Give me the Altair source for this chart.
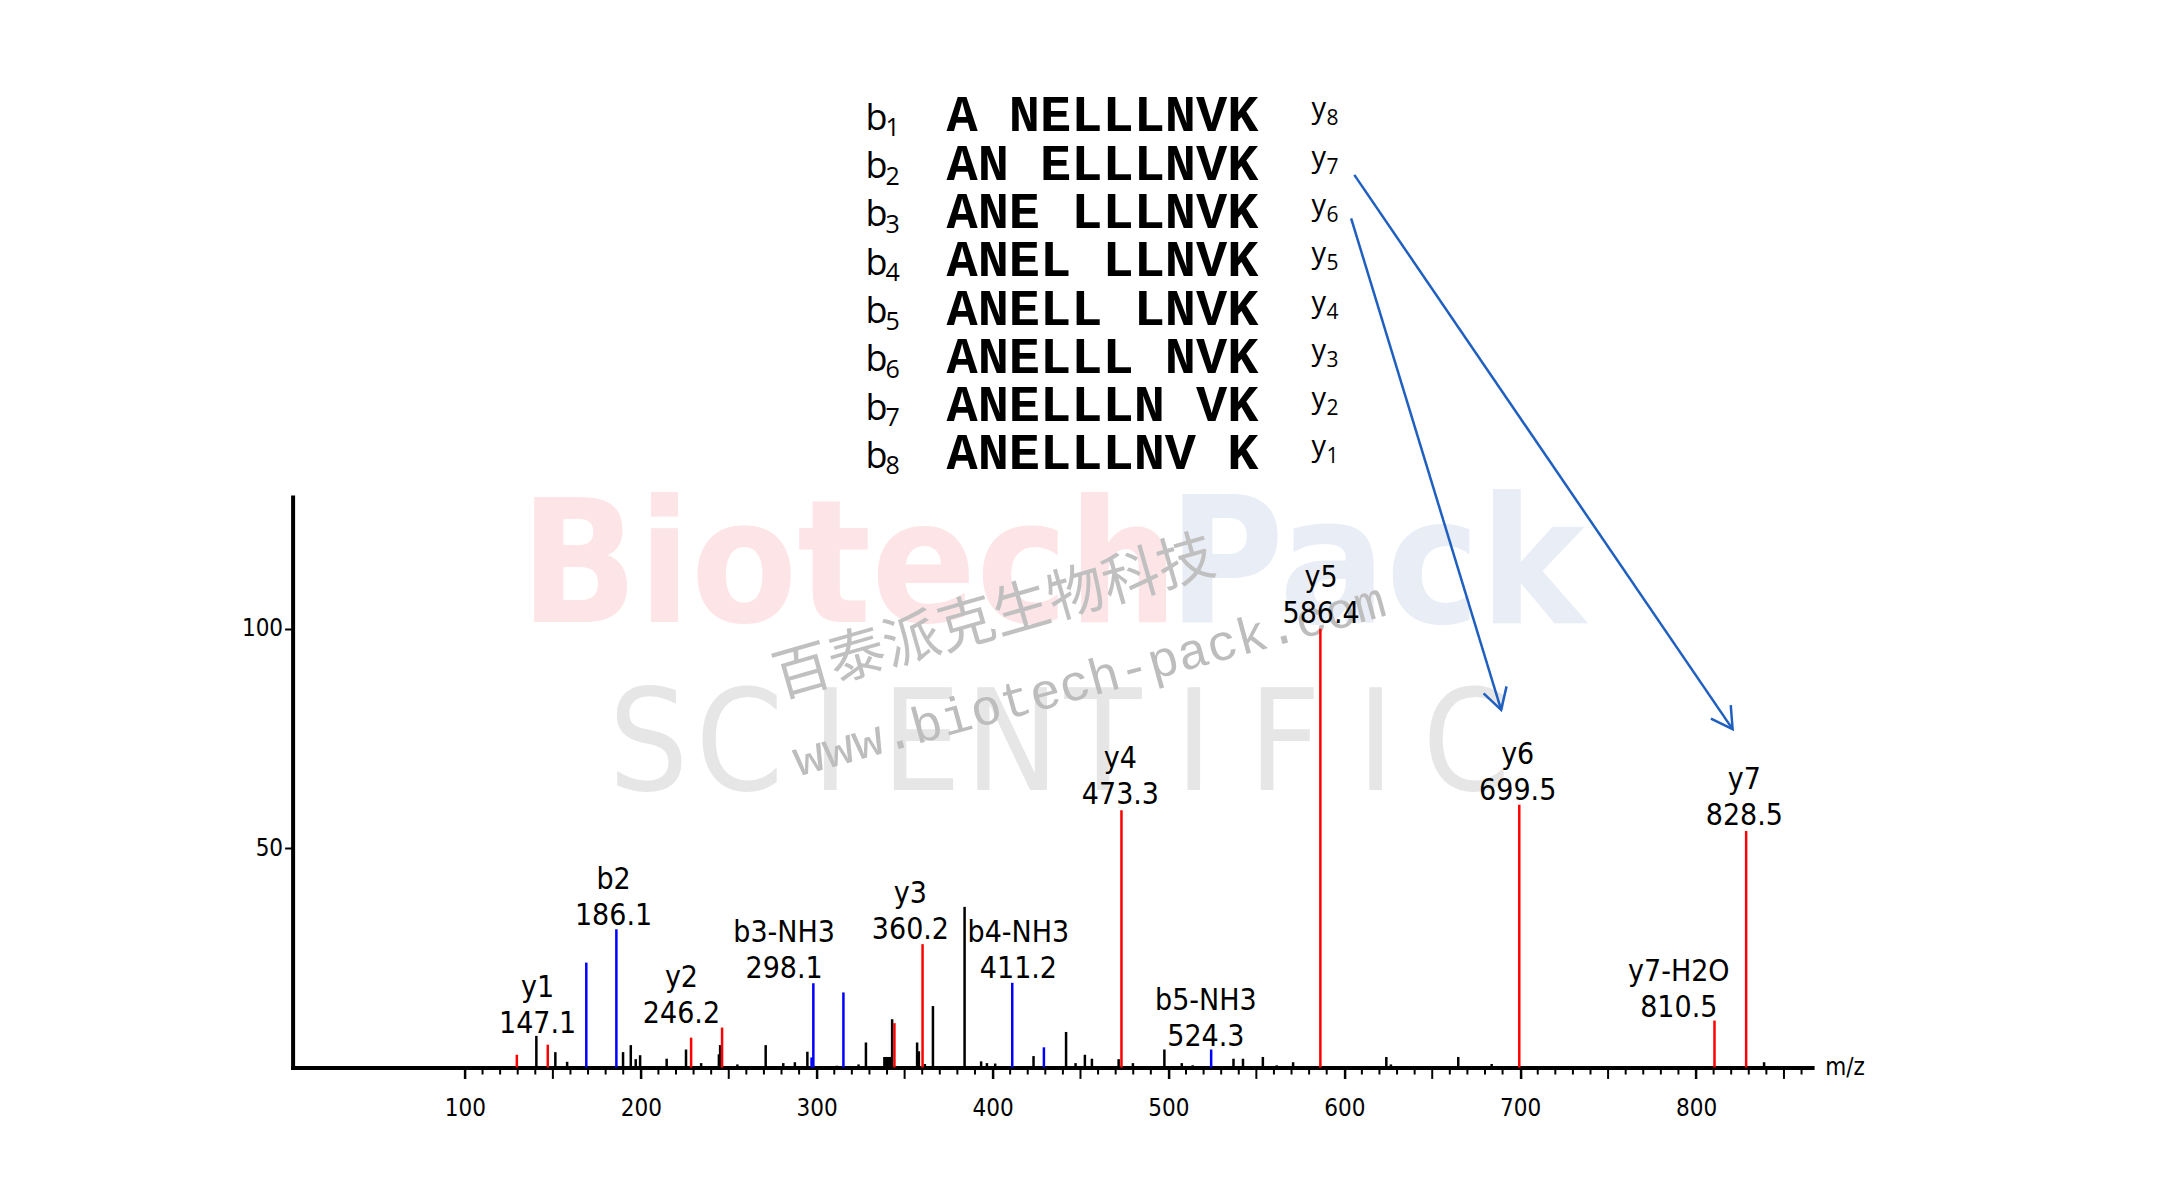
import math
import altair as alt
import pandas as pd

# ---------------- data ----------------
# peaks: m/z, relative intensity, ion type (y = y-ion red, b = b-ion blue, o = other black)
peak_mz = [129.5, 140.6, 147.1, 151.4, 158.1, 169.0, 186.1, 189.9, 194.3, 197.1,
           199.6, 214.7, 225.7, 228.6, 234.3, 244.4, 245.1, 246.2, 254.9, 271.0,
           281.0, 287.6, 294.7, 297.1, 298.1, 311.4, 315.2, 323.8, 328.0, 338.5,
           339.3, 340.1, 340.9, 341.7, 342.9, 344.2, 357.1, 358.1, 360.2, 361.5,
           366.1, 384.1, 393.5, 396.8, 401.5, 411.2, 423.3, 429.2, 441.8, 447.2,
           452.5, 456.5, 471.7, 473.3, 479.8, 497.7, 507.6, 513.8, 524.3, 537.0,
           542.4, 553.7, 561.6, 570.9, 586.4, 623.9, 626.5, 664.8, 683.8, 699.5,
           810.5, 828.5, 838.7]
peak_int = [2.9, 7.2, 5.2, 3.5, 1.3, 23.9, 31.5, 3.5, 5.1, 1.9,
            2.8, 2.0, 4.1, 6.8, 1.0, 3.0, 5.1, 9.1, 0.7, 5.1,
            1.0, 1.2, 3.6, 2.3, 19.2, 0.4, 17.1, 0.7, 5.7, 2.4,
            2.4, 2.4, 2.4, 2.4, 11.0, 10.1, 5.7, 3.7, 28.1, 0.8,
            14.0, 36.6, 1.4, 1.0, 0.9, 19.3, 2.6, 4.6, 8.1, 1.0,
            2.9, 2.0, 1.9, 58.6, 1.0, 4.1, 1.0, 0.5, 4.1, 2.0,
            2.0, 2.4, 0.5, 1.2, 100.0, 2.4, 0.7, 2.4, 0.8, 59.9,
            10.7, 53.9, 1.2]
peak_type = ["y", "o", "y", "o", "o", "b", "b", "o", "o", "o",
             "o", "o", "o", "y", "o", "o", "o", "y", "o", "o",
             "o", "o", "o", "b", "b", "o", "b", "o", "o", "o",
             "o", "o", "o", "o", "o", "y", "o", "o", "y", "o",
             "o", "o", "o", "o", "o", "b", "o", "b", "o", "o",
             "o", "o", "o", "y", "o", "o", "o", "o", "b", "o",
             "o", "o", "o", "o", "y", "o", "o", "o", "o", "y",
             "y", "y", "o"]

# peak annotations: ion name, m/z text, label centre (m/z, intensity of the value line)
ion_names = ["y1", "b2", "y2", "b3-NH3", "y3", "b4-NH3", "y4", "b5-NH3",
             "y5", "y6", "y7-H2O", "y7"]
ion_values = ["147.1", "186.1", "246.2", "298.1", "360.2", "411.2", "473.3",
              "524.3", "586.4", "699.5", "810.5", "828.5"]
ion_label_mz = [141.3, 184.5, 223.1, 281.5, 353.3, 414.7, 472.7, 521.3,
                586.8, 698.6, 790.2, 827.5]
ion_label_int = [10.0, 34.6, 12.3, 22.5, 31.4, 22.5, 62.2, 7.0,
                 103.4, 63.1, 13.6, 57.2]

# fragment table
b_numbers = ["1", "2", "3", "4", "5", "6", "7", "8"]
sequences = ["A NELLLNVK", "AN ELLLNVK", "ANE LLLNVK", "ANEL LLNVK",
             "ANELL LNVK", "ANELLL NVK", "ANELLLN VK", "ANELLLNV K"]
y_numbers = ["8", "7", "6", "5", "4", "3", "2", "1"]

# arrows from the y7 / y6 table entries to their peaks (m/z, intensity)
arrow_from_mz = [605.7, 603.9]
arrow_from_int = [203.4, 193.5]
arrow_to_mz = [820.8, 689.2]
arrow_to_int = [77.1, 81.5]

# axis ticks
x_tick_values = [100, 200, 300, 400, 500, 600, 700, 800]
y_tick_values = [50, 100]

# watermark
wm_words = ["Biotech", "Pack"]
wm_word_mz = [318.4, 618.3]
wm_word_int = [113.3, 113.3]
wm_letters = list("SCIENTIFIC")
wm_cn_text = "百泰派克生物科技"
wm_url_text = "www.biotech-pack.com"

# ---------------- layout ----------------
X_MIN, X_MAX, Y_MAX = 2, 866, 130
W, H = 1519.5, 570.5
PX_MZ = W / (X_MAX - X_MIN)
PX_INT = H / Y_MAX

ROW0_INT = 213.3   # baseline of the first table row (intensity units)
ROW_STEP = 11.0
B_COL_MZ = 327.7
SEQ_LEFT_MZ = 373.8
Y_COL_MZ = 581.3

LBL_FONT = "DejaVu Sans Condensed, Liberation Sans Narrow, DejaVu Sans"
TAB_FONT = "Open Sans, Noto Sans, DejaVu Sans"

xs = alt.Scale(domain=[X_MIN, X_MAX], nice=False, zero=False)
ys = alt.Scale(domain=[0, Y_MAX], nice=False, zero=False)

AX = alt.Axis(values=x_tick_values, title=None, grid=False, domainWidth=4,
              domainColor="black", domainCap="square", tickSize=11, tickWidth=2.5,
              tickColor="black", labelFont=LBL_FONT, labelFontSize=24,
              labelColor="black", labelPadding=18, labelFlush=False,
              labelOverlap=False, format="d")
AY = alt.Axis(values=y_tick_values, title=None, grid=False, domainWidth=4,
              domainColor="black", domainCap="square", tickSize=8, tickWidth=2,
              tickColor="black", labelFont=LBL_FONT, labelFontSize=24,
              labelColor="black", labelPadding=2, labelFlush=False, format="d")


def xe(f="x"):
    return alt.X(f"{f}:Q", scale=xs, axis=AX)


def ye(f="y"):
    return alt.Y(f"{f}:Q", scale=ys, axis=AY)


# ---------------- watermark ----------------
wm_df = pd.DataFrame({"x": wm_word_mz, "y": wm_word_int, "t": wm_words,
                      "c": ["#fde4e7", "#e9edf6"], "s": [172, 176]})
wm_big = alt.Chart(wm_df).mark_text(
    font="DejaVu Sans Condensed, sans-serif", fontWeight="bold",
    align="center", baseline="middle"
).encode(x=xe(), y=ye(), text="t:N", color=alt.Color("c:N", scale=None),
         size=alt.Size("s:Q", scale=None))

wm_sci = alt.Chart(pd.DataFrame({
    "x": [204.4 + i * 51.67 for i in range(len(wm_letters))],
    "y": [72.7] * len(wm_letters), "t": wm_letters})).mark_text(
    font="DejaVu Sans Condensed, sans-serif", fontWeight=300,
    fontSize=140, align="center", baseline="middle", color="#e6e6e6"
).encode(x=xe(), y=ye(), text="t:N")

wm_cn = alt.Chart(pd.DataFrame({"x": [401.1], "y": [102.3], "t": [wm_cn_text]})).mark_text(
    font="Noto Sans CJK SC", fontSize=57, angle=344, align="center",
    baseline="middle", color="#c0c0c0"
).encode(x=xe(), y=ye(), text="t:N")

wm_url = alt.Chart(pd.DataFrame({"x": [455.1], "y": [88.0], "t": [wm_url_text]})).mark_text(
    font="Liberation Mono", fontSize=51, angle=344.7, align="center",
    baseline="middle", color="#bdbdbd"
).encode(x=xe(), y=ye(), text="t:N")

# ---------------- minor ticks ----------------
minor_vals = [v for v in range(110, 870, 10) if v % 100 != 0]
minor = pd.DataFrame({"x": minor_vals, "y": [0.0] * len(minor_vals),
                      "y2": [-2.6 if v % 50 == 0 else -1.6 for v in minor_vals]})
minor_ticks = alt.Chart(minor).mark_rule(color="black", strokeWidth=2).encode(
    x=xe(), y=ye(), y2="y2:Q")

# ---------------- peaks ----------------
order = {"o": 0, "b": 1, "y": 2}
peaks = pd.DataFrame({"x": peak_mz, "y": peak_int, "t": peak_type,
                      "y2": [0.0] * len(peak_mz)})
peaks["o"] = peaks["t"].map(order)
peaks = peaks.sort_values("o", kind="stable")
peak_layer = alt.Chart(peaks).mark_rule(strokeWidth=2.5).encode(
    x=xe(), y=ye(), y2="y2:Q",
    color=alt.Color("t:N", scale=alt.Scale(domain=["o", "b", "y"],
                                           range=["#000000", "#0000ff", "#ff0000"]),
                    legend=None))

# ---------------- peak labels ----------------
lab = pd.DataFrame({"x": ion_label_mz, "y": ion_label_int,
                    "n": ion_names, "v": ion_values})
lab_val = alt.Chart(lab).mark_text(font=LBL_FONT, fontSize=30, align="center",
                                   baseline="middle", color="black").encode(
    x=xe(), y=ye(), text="v:N")
lab_name = alt.Chart(lab).mark_text(font=LBL_FONT, fontSize=30, align="center",
                                    baseline="middle", color="black", dy=-36).encode(
    x=xe(), y=ye(), text="n:N")

# ---------------- fragment table ----------------
rows = list(range(len(sequences)))
tab = pd.DataFrame({
    "xb": [B_COL_MZ] * len(rows), "xs": [SEQ_LEFT_MZ] * len(rows),
    "xy": [Y_COL_MZ] * len(rows),
    "y": [ROW0_INT - i * ROW_STEP for i in rows],
    "bn": b_numbers, "seq": sequences, "yn": y_numbers,
    "bl": ["b"] * len(rows), "yl": ["y"] * len(rows)})

seq_layer = alt.Chart(tab).mark_text(font="Liberation Mono", fontWeight="bold",
                                     fontSize=52, align="left",
                                     baseline="alphabetic", color="black").encode(
    x=xe("xs"), y=ye(), text="seq:N")
b_letter = alt.Chart(tab).mark_text(font=TAB_FONT, fontSize=36, align="left",
                                    baseline="alphabetic", color="black", dy=-1.5).encode(
    x=xe("xb"), y=ye(), text="bl:N")
b_digit = alt.Chart(tab).mark_text(font=TAB_FONT, fontSize=25, align="left",
                                   baseline="alphabetic", color="black", dx=20, dy=5).encode(
    x=xe("xb"), y=ye(), text="bn:N")
y_letter = alt.Chart(tab).mark_text(font=TAB_FONT, fontSize=29, align="left",
                                    baseline="alphabetic", color="black", dy=-13).encode(
    x=xe("xy"), y=ye(), text="yl:N")
y_digit = alt.Chart(tab).mark_text(font=TAB_FONT, fontSize=21, align="left",
                                   baseline="alphabetic", color="black", dx=15, dy=-6).encode(
    x=xe("xy"), y=ye(), text="yn:N")

# ---------------- arrows ----------------
angles = []
for fx, fy, tx, ty in zip(arrow_from_mz, arrow_from_int, arrow_to_mz, arrow_to_int):
    dxp = (tx - fx) * PX_MZ
    dyp = (fy - ty) * PX_INT
    angles.append((360 - math.degrees(math.atan2(dxp, dyp))) % 360)
arr = pd.DataFrame({"x": arrow_from_mz, "y": arrow_from_int,
                    "x2": arrow_to_mz, "y2": arrow_to_int, "a": angles})
ARROW_BLUE = "#1f5fbf"
arrow_shaft = alt.Chart(arr).mark_rule(color=ARROW_BLUE, strokeWidth=2.5).encode(
    x=xe(), y=ye(), x2="x2:Q", y2="y2:Q")
arrow_head = alt.Chart(arr).mark_point(
    shape="M -0.5 -0.87 L 0 0 L 0.5 -0.87", filled=False, color=ARROW_BLUE,
    strokeWidth=2.5, size=2304, opacity=1, strokeJoin="miter").encode(
    x=xe("x2"), y=ye("y2"), angle=alt.Angle("a:Q", scale=None))

# ---------------- m/z label ----------------
mz_lab = alt.Chart(pd.DataFrame({"x": [873.5], "y": [0.0], "t": ["m/z"]})).mark_text(
    font=LBL_FONT, fontSize=24, align="left", baseline="middle", color="black", dy=1).encode(
    x=xe(), y=ye(), text="t:N")

chart = alt.layer(
    wm_big, wm_sci, wm_cn, wm_url, minor_ticks, peak_layer, lab_val, lab_name,
    seq_layer, b_letter, b_digit, y_letter, y_digit, arrow_shaft, arrow_head, mz_lab
).properties(
    width=W, height=H,
    autosize=alt.AutoSizeParams(type="none"),
    padding={"left": 284.6, "top": 489, "right": 330, "bottom": 100},
    background="white"
).configure_view(stroke=None)

chart.save("out.html", embed_options={"renderer": "svg", "actions": False})
